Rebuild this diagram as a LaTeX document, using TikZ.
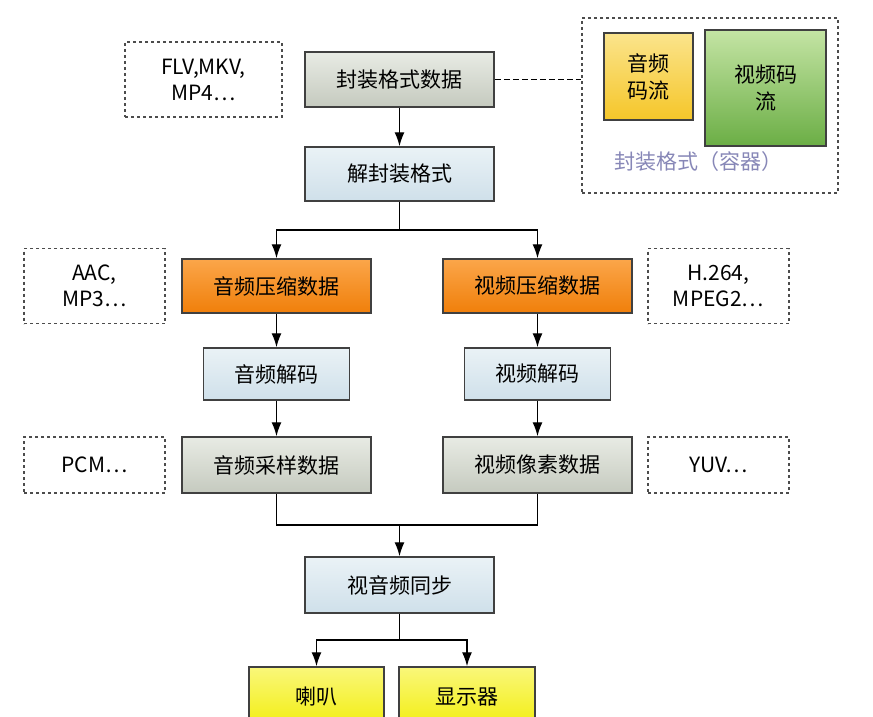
\documentclass[tikz,border=0pt]{standalone}
\usepackage{fontspec}
\setmainfont{Noto Sans CJK SC}[BoldFont={Noto Sans CJK SC Bold}]
\usetikzlibrary{arrows.meta}
\definecolor{bl1}{HTML}{EAF2F6}
\definecolor{bl2}{HTML}{CFE0EA}
\definecolor{gr1}{HTML}{E8EBE4}
\definecolor{gr2}{HTML}{C5CABF}
\definecolor{or1}{HTML}{FBA64A}
\definecolor{or2}{HTML}{F07F0A}
\definecolor{ye1}{HTML}{FBE48C}
\definecolor{ye2}{HTML}{F5C629}
\definecolor{gn1}{HTML}{C4E4A4}
\definecolor{gn2}{HTML}{6BAE45}
\definecolor{yy1}{HTML}{FAF77A}
\definecolor{yy2}{HTML}{F2EE10}
\begin{document}
\begin{tikzpicture}[x=1pt,y=-1pt,
  box/.style={draw=black!75,line width=1.5pt,minimum width=#1,inner sep=0pt,font=\fontsize{21}{24}\selectfont},
  box/.default=189,
  gray/.style={box,top color=gr1,bottom color=gr2,minimum height=55},
  blue/.style={box,top color=bl1,bottom color=bl2,minimum height=54},
  orange/.style={box,top color=or1,bottom color=or2,minimum height=54},
  yel/.style={box,top color=yy1,bottom color=yy2,minimum height=60,minimum width=135},
  note/.style={draw=black!70,dashed,line width=1.2pt,minimum width=#1,minimum height=75,align=center,font=\fontsize{21}{26}\selectfont},
  note/.default=141,
  arr/.style={-{Latex[length=14pt,width=10pt]},line width=1.3pt},
  ln/.style={line width=1.3pt}]
\useasboundingbox (0,0) rectangle (873,717);
% top
\node[gray] (pkg) at (399.5,79.5) {封装格式数据};
\node[note=157] (flv) at (203.5,79.5) {FLV,MKV,\\MP4…};
\node[draw=black!70,dashed,line width=1.2pt,minimum width=256,minimum height=175,inner sep=0] (cont) at (710,105.5) {};
\node[box,minimum width=89,minimum height=87,top color=ye1,bottom color=ye2,align=center,font=\fontsize{21}{27}\selectfont] (aud) at (648.5,76.5) {音频\\码流};
\node[box,minimum width=121,minimum height=116,top color=gn1,bottom color=gn2,align=center,font=\fontsize{21}{27}\selectfont] (vid) at (765.5,88) {视频码\\流};
\node[text=blue!25!gray!75,font=\fontsize{21}{24}\selectfont] (contl) at (698,162) {封装格式（容器）};
\draw[ln,dash pattern=on 6pt off 3pt] (pkg.east) -- (pkg.east -| cont.west);
\node[blue] (demux) at (399.5,174) {解封装格式};
\draw[arr] (pkg) -- (demux);
% compressed
\node[orange] (acomp) at (276.5,286) {音频压缩数据};
\node[orange] (vcomp) at (537.5,286) {视频压缩数据};
\node[note] (aac) at (94.5,286) {AAC,\\MP3…};
\node[note] (h264) at (718.5,286) {H.264,\\MPEG2…};
\coordinate (s1) at (399.5,230);
\draw[ln] (demux) -- (s1);
\draw[arr] (s1) -| (acomp);
\draw[arr] (s1) -| (vcomp);
% decode
\node[blue,minimum width=146,minimum height=52] (adec) at (276.5,374) {音频解码};
\node[blue,minimum width=146,minimum height=52] (vdec) at (537.5,374) {视频解码};
\draw[arr] (acomp) -- (adec);
\draw[arr] (vcomp) -- (vdec);
% raw
\node[gray,minimum height=56] (araw) at (276.5,465) {音频采样数据};
\node[gray,minimum height=56] (vraw) at (537.5,465) {视频像素数据};
\node[note,minimum height=56] (pcm) at (94.5,465) {PCM…};
\node[note,minimum height=56] (yuv) at (718.5,465) {YUV…};
\draw[arr] (adec) -- (araw);
\draw[arr] (vdec) -- (vraw);
% sync
\node[blue,minimum height=56] (sync) at (399.5,585) {视音频同步};
\coordinate (m) at (399.5,525);
\draw[ln] (araw) |- (m) -| (vraw);
\draw[arr] (m) -- (sync);
% out
\node[yel] (spk) at (316.5,697) {喇叭};
\node[yel,minimum width=136] (disp) at (467,697) {显示器};
\coordinate (s2) at (399.5,640);
\draw[ln] (sync) -- (s2);
\draw[arr] (s2) -| (spk.north);
\draw[arr] (s2) -| (disp.north);
\end{tikzpicture}
\end{document}
